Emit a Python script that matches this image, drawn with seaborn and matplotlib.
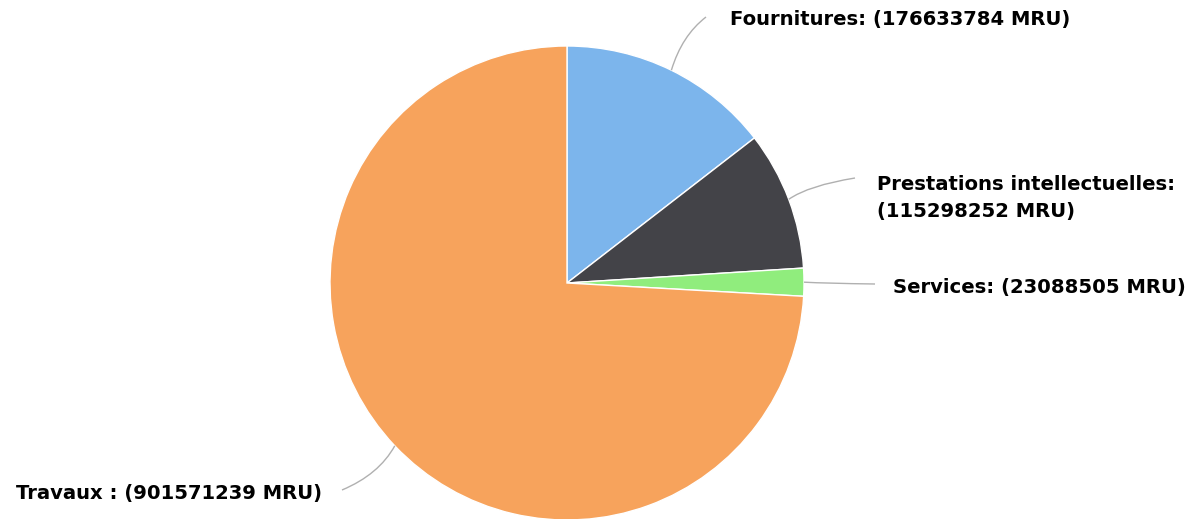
import matplotlib
matplotlib.use("Agg")
import matplotlib.pyplot as plt
import seaborn as sns
import numpy as np
from matplotlib.path import Path
from matplotlib.patches import PathPatch

sns.set_theme(style="white")
plt.rcParams['font.family'] = ['DejaVu Sans']

categories = ["Fournitures", "Prestations intellectuelles", "Services", "Travaux"]
values = [176633784, 115298252, 23088505, 901571239]
labels = ["Fournitures: (176633784 MRU)",
          "Prestations intellectuelles:\n(115298252 MRU)",
          "Services: (23088505 MRU)",
          "Travaux : (901571239 MRU)"]
colors = ["#7cb5ec", "#434348", "#90ed7d", "#f7a35c"]

W, H = 1197, 519
fig = plt.figure(figsize=(W / 100, H / 100), dpi=100)
ax = fig.add_axes([0, 0, 1, 1])

cx, cy, r = 567, H - 283, 237
wedges, _ = ax.pie(values, colors=colors, startangle=90, counterclock=False,
                   center=(cx, cy), radius=r, frame=True,
                   wedgeprops=dict(edgecolor='white', linewidth=1))
ax.set_xlim(0, W)
ax.set_ylim(0, H)
ax.set_aspect('equal')
ax.axis('off')

# label positions (pixel coords, y from top) and connector points
label_pos = [(730, 20, 'left'), (877, 198, 'left'), (893, 288, 'left'), (322, 493, 'right')]
elbows = [(706, 17), (855, 178), (875, 284), (342, 490)]

total = sum(values)
start = 0.0
for i, v in enumerate(values):
    frac = v / total
    mid = (start + frac / 2) * 2 * np.pi
    start += frac
    ex = cx + r * np.sin(mid)
    ey = cy + r * np.cos(mid)
    bx, by = elbows[i][0], H - elbows[i][1]
    c1x = ex + (bx - ex) * 0.3
    c1y = ey + (by - ey) * 0.65
    path = Path([(ex, ey), (c1x, c1y), (bx, by)],
                [Path.MOVETO, Path.CURVE3, Path.CURVE3])
    ax.add_patch(PathPatch(path, fill=False, edgecolor='#b0b0b0', linewidth=1))
    lx, ly, ha = label_pos[i]
    ax.text(lx, H - ly, labels[i], ha=ha, va='center', fontsize=14.1,
            fontweight='bold', color='black', linespacing=1.48)

fig.savefig("out.png", dpi=100, facecolor='white')
